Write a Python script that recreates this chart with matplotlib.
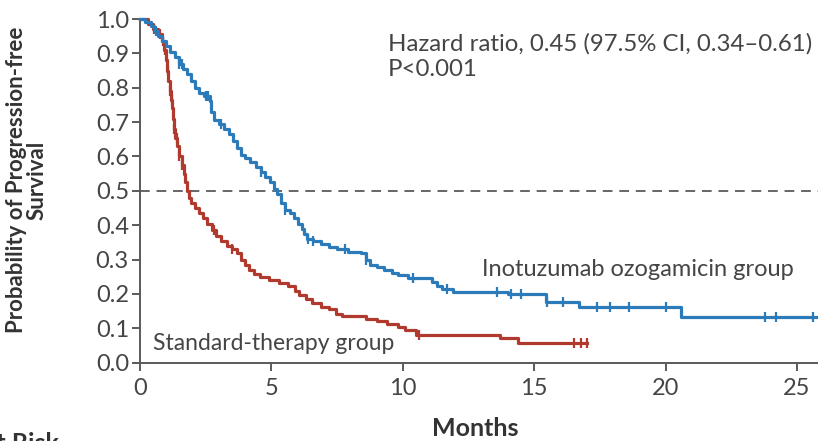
import numpy as np
import matplotlib.pyplot as plt

plt.rcParams['font.family'] = ['Lato', 'DejaVu Sans']

# Inotuzumab ozogamicin group (Kaplan-Meier steps)
ino_t = [0, 0.2, 0.4, 0.55, 0.7, 0.85, 1.0, 1.15, 1.35, 1.5, 1.65, 1.8, 1.95,
         2.1, 2.25, 2.45, 2.65, 2.72, 2.8, 3.0, 3.2, 3.4, 3.55, 3.7, 3.85, 4.0,
         4.2, 4.4, 4.6, 4.75, 4.95, 5.1, 5.2, 5.35, 5.5, 5.7, 5.85, 6.0, 6.15,
         6.25, 6.35, 6.6, 6.9, 7.2, 7.5, 7.9, 8.4, 8.6, 8.75, 9.0, 9.3, 9.6,
         9.8, 10.2, 11.1, 11.3, 11.5, 11.9, 14.0, 15.45, 16.7, 20.6, 25.8]
ino_s = [1.0, 0.99, 0.98, 0.965, 0.95, 0.935, 0.92, 0.905, 0.89, 0.87, 0.855,
         0.84, 0.82, 0.80, 0.785, 0.775, 0.76, 0.73, 0.705, 0.695, 0.68, 0.665,
         0.645, 0.625, 0.605, 0.595, 0.585, 0.57, 0.555, 0.54, 0.525, 0.505,
         0.49, 0.465, 0.445, 0.435, 0.42, 0.405, 0.39, 0.375, 0.36, 0.355,
         0.345, 0.338, 0.33, 0.322, 0.318, 0.30, 0.285, 0.278, 0.27, 0.262,
         0.255, 0.246, 0.235, 0.222, 0.213, 0.207, 0.199, 0.176, 0.162, 0.133,
         0.133]
ino_cens = [0.6, 1.5, 1.6, 2.5, 2.6, 3.1, 4.6, 5.5, 6.4, 6.6, 7.8, 8.6, 10.4,
            11.7, 13.6, 14.1, 14.5, 15.5, 16.1, 17.4, 17.9, 18.6, 20.0, 23.8,
            24.2, 25.6]

# Standard-therapy group
std_t = [0, 0.3, 0.5, 0.7, 0.85, 0.92, 0.98, 1.03, 1.08, 1.13, 1.18, 1.22,
         1.25, 1.28, 1.35, 1.42, 1.5, 1.58, 1.66, 1.72, 1.78, 1.85, 1.95, 2.1,
         2.25, 2.4, 2.55, 2.75, 2.9, 3.1, 3.3, 3.5, 3.7, 3.85, 4.0, 4.15, 4.35,
         4.55, 4.9, 5.3, 5.65, 5.9, 6.05, 6.3, 6.55, 6.9, 7.2, 7.45, 7.7, 8.6,
         9.0, 9.4, 9.8, 10.1, 10.5, 13.7, 14.4, 17.0]
std_s = [1.0, 0.985, 0.97, 0.955, 0.935, 0.91, 0.88, 0.85, 0.82, 0.79, 0.765,
         0.74, 0.71, 0.68, 0.655, 0.63, 0.60, 0.575, 0.55, 0.525, 0.50, 0.48,
         0.465, 0.45, 0.435, 0.42, 0.405, 0.385, 0.37, 0.355, 0.34, 0.33,
         0.318, 0.30, 0.285, 0.27, 0.258, 0.248, 0.24, 0.232, 0.222, 0.21,
         0.198, 0.185, 0.173, 0.163, 0.155, 0.143, 0.135, 0.128, 0.12, 0.112,
         0.104, 0.095, 0.082, 0.072, 0.058, 0.058]
std_cens = [0.55, 0.75, 0.88, 0.95, 1.05, 1.13, 1.2, 1.3, 1.4, 1.5, 1.6, 2.8,
            3.5, 10.6, 16.5, 16.8, 17.0]

blue = '#2b7bba'
red = '#b03a2e'
grey = '#5a5a5a'
txt = '#454545'


def step_at(t, s, x):
    i = np.searchsorted(t, x, side='right') - 1
    return np.asarray(s)[i]


W, H = 818, 441
fig = plt.figure(figsize=(W / 100, H / 100), dpi=100)
ax = fig.add_axes([140 / W, 1 - 362.7 / H, 1 - 140 / W, (362.7 - 19) / H])

ax.axhline(0.5, color='#666666', lw=1.4, ls=(0, (5, 3.5)), zorder=1)

ax.plot(std_t, std_s, drawstyle='steps-post', color=red, lw=2.3, clip_on=False, zorder=3)
ax.plot(ino_t, ino_s, drawstyle='steps-post', color=blue, lw=2.3, clip_on=False, zorder=4)
ax.plot(std_cens, step_at(std_t, std_s, std_cens), ls='none', marker='|',
        ms=7, mew=1.6, color=red, zorder=3)
ax.plot(ino_cens, step_at(ino_t, ino_s, ino_cens), ls='none', marker='|',
        ms=7, mew=1.6, color=blue, zorder=4)

ax.set_xlim(0, 25.8)
ax.set_ylim(0, 1.0)
ax.set_xticks([0, 5, 10, 15, 20, 25])
ax.set_yticks(np.arange(0, 1.01, 0.1))
ax.set_yticklabels(['%.1f' % v for v in np.arange(0, 1.01, 0.1)])
for side in ['top', 'right']:
    ax.spines[side].set_visible(False)
for side in ['left', 'bottom']:
    ax.spines[side].set_color(grey)
    ax.spines[side].set_linewidth(1.4)
ax.tick_params(direction='out', length=6, width=1.4, color=grey,
               labelsize=17, labelcolor=txt, pad=2)
ax.tick_params(axis='x', pad=5)

fig.text(27 / W, 1 - 180 / H, 'Probability of Progression-free\nSurvival',
         fontsize=16, fontweight='bold', color='#333333', rotation=90,
         ha='center', va='center', linespacing=0.95, multialignment='center')
fig.text(475 / W, 1 - 429 / H, 'Months', fontsize=18, fontweight='bold',
         color='#333333', ha='center', va='center')

ax.text(9.42, 0.96, 'Hazard ratio, 0.45 (97.5% CI, 0.34\u20130.61)\nP<0.001',
        fontsize=17.3, color=txt, va='top', ha='left', linespacing=1.3)
ax.text(0.49, 0.057, 'Standard-therapy group', fontsize=16.5, color=txt,
        va='center', ha='left')
ax.text(13.03, 0.27, 'Inotuzumab ozogamicin group', fontsize=17,
        color=txt, va='center', ha='left')

fig.text(-62 / W, 1 - 432 / H, 'No. at Risk', fontsize=18, fontweight='bold',
         color='#333333', ha='left', va='top')

fig.savefig('out.png', dpi=100)
